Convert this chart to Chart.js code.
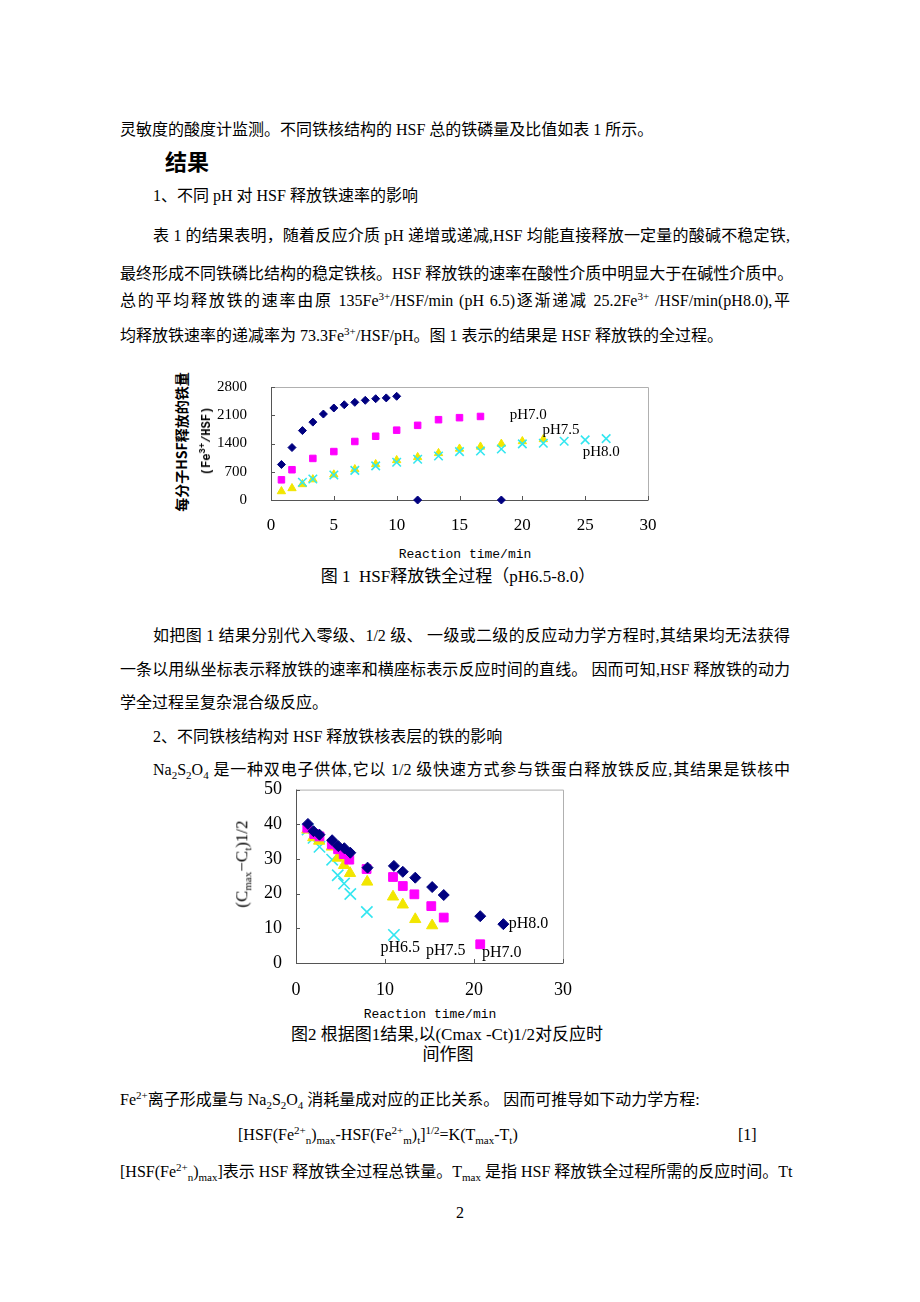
<!DOCTYPE html>
<html lang="zh-CN">
<head>
<meta charset="utf-8">
<title>HSF释放铁全过程</title>
<script src="https://cdn.jsdelivr.net/npm/chart.js@4.4.0/dist/chart.umd.min.js"></script>
<style>
  html, body { margin: 0; padding: 0; background: #fff; }
  body {
    width: 920px; height: 1302px; position: relative; overflow: hidden;
    font-family: "Liberation Serif", "Noto Sans CJK SC", serif; color: #000;
  }
  .ln { position: absolute; height: 22px; line-height: 22px; font-size: 16px; white-space: nowrap; }
  .jf { text-align: justify; text-align-last: justify; }
  .ln sup { font-size: 11px; vertical-align: 6px; line-height: 0; }
  .ln sub { font-size: 11px; vertical-align: -4px; line-height: 0; }
  .head { position: absolute; font-family: "Noto Sans CJK SC", sans-serif; font-weight: bold; font-size: 22px; line-height: 30px; }
  .cap { position: absolute; font-size: 17px; line-height: 20px; white-space: nowrap; transform: translateX(-50%); }
  .xt { position: absolute; font-family: "Liberation Mono", monospace; font-size: 13px; white-space: nowrap; transform: translate(-50%, -50%); }
  .yt { position: absolute; white-space: nowrap; transform: translate(-50%, -50%) rotate(-90deg); }
  canvas { position: absolute; }
</style>
</head>
<body>

<div class="ln" style="left:120px; top:119px;">灵敏度的酸度计监测。不同铁核结构的 HSF 总的铁磷量及比值如表 1 所示。</div>
<div class="head" style="left:165px; top:145px;">结果</div>
<div class="ln" style="left:153px; top:185px;">1、不同 pH 对 HSF 释放铁速率的影响</div>
<div class="ln jf" style="left:153px; top:225px; width:637px;">表 1 的结果表明，随着反应介质 pH 递增或递减,HSF 均能直接释放一定量的酸碱不稳定铁,</div>
<div class="ln jf" style="left:120px; top:263px; width:670px;">最终形成不同铁磷比结构的稳定铁核。HSF 释放铁的速率在酸性介质中明显大于在碱性介质中。</div>
<div class="ln jf" style="left:120px; top:290px; width:670px;">总的平均释放铁的速率由原 135Fe<sup>3+</sup>/HSF/min (pH 6.5)逐渐递减 25.2Fe<sup>3+</sup> /HSF/min(pH8.0),平</div>
<div class="ln" style="left:120px; top:325px;">均释放铁速率的递减率为 73.3Fe<sup>3+</sup>/HSF/pH。图 1 表示的结果是 HSF 释放铁的全过程。</div>

<canvas id="fig1" width="470" height="165" style="left:200px; top:375px;"></canvas>
<div class="yt" style="left:181px; top:442px; font-family:'Noto Sans CJK SC',sans-serif; font-weight:bold; font-size:14px;">每分子HSF释放的铁量</div>
<div class="yt" style="left:206px; top:441px; font-family:'Liberation Mono',monospace; font-weight:bold; font-size:12px;">(Fe<sup style="font-size:9px;">3+</sup>/HSF)</div>
<div class="xt" style="left:465px; top:554px;">Reaction time/min</div>
<div class="cap" style="left:458px; top:567px;">图 1&nbsp; HSF释放铁全过程（pH6.5-8.0）</div>

<div class="ln jf" style="left:153px; top:625px; width:637px;">如把图 1 结果分别代入零级、1/2 级、 一级或二级的反应动力学方程时,其结果均无法获得</div>
<div class="ln jf" style="left:120px; top:659px; width:670px;">一条以用纵坐标表示释放铁的速率和横座标表示反应时间的直线。 因而可知,HSF 释放铁的动力</div>
<div class="ln" style="left:120px; top:692px;">学全过程呈复杂混合级反应。</div>
<div class="ln" style="left:153px; top:726px;">2、不同铁核结构对 HSF 释放铁核表层的铁的影响</div>
<div class="ln jf" style="left:153px; top:759px; width:637px;">Na<sub>2</sub>S<sub>2</sub>O<sub>4</sub> 是一种双电子供体,它以 1/2 级快速方式参与铁蛋白释放铁反应,其结果是铁核中</div>

<canvas id="fig2" width="330" height="220" style="left:250px; top:780px;"></canvas>
<div class="yt" style="left:243px; top:864px; font-size:17px;">(C<sub style="font-size:11px;">max</sub>−C<sub style="font-size:11px;">t</sub>)1/2</div>
<div class="xt" style="left:430px; top:1014px;">Reaction time/min</div>
<div class="cap" style="left:447px; top:1025px;">图2 根据图1结果,以(Cmax -Ct)1/2对反应时</div>
<div class="cap" style="left:448px; top:1045px;">间作图</div>

<div class="ln" style="left:120px; top:1089px;">Fe<sup>2+</sup>离子形成量与 Na<sub>2</sub>S<sub>2</sub>O<sub>4</sub> 消耗量成对应的正比关系。 因而可推导如下动力学方程:</div>
<div class="ln" style="left:238px; top:1124px;">[HSF(Fe<sup>2+</sup><sub>n</sub>)<sub>max</sub>-HSF(Fe<sup>2+</sup><sub>m</sub>)<sub>t</sub>]<sup>1/2</sup>=K(T<sub>max</sub>-T<sub>t</sub>)</div>
<div class="ln" style="left:738px; top:1124px;">[1]</div>
<div class="ln jf" style="left:120px; top:1161px; width:670px;">[HSF(Fe<sup>2+</sup><sub>n</sub>)<sub>max</sub>]表示 HSF 释放铁全过程总铁量。T<sub>max</sub> 是指 HSF 释放铁全过程所需的反应时间。Tt</div>
<div class="ln" style="left:456px; top:1202px;">2</div>

<script>
// Figure 1: iron released per HSF molecule (Fe3+/HSF) vs reaction time (min)
const f1TimePH65 = [0.83, 1.67, 2.5, 3.33, 4.17, 5.0, 5.83, 6.67, 7.5, 8.33, 9.17, 10.0, 11.67, 18.33];
const f1FePH65   = [880, 1300, 1720, 1930, 2130, 2280, 2360, 2420, 2470, 2510, 2530, 2570, 0, 0];
const f1TimePH70 = [0.83, 1.67, 3.33, 5.0, 6.67, 8.33, 10.0, 11.67, 13.33, 15.0, 16.67];
const f1FePH70   = [500, 750, 1030, 1200, 1450, 1580, 1730, 1850, 1990, 2040, 2070];
const f1TimePH75 = [0.83, 1.67, 2.5, 3.33, 5.0, 6.67, 8.33, 10.0, 11.67, 13.33, 15.0, 16.67, 18.33, 20.0, 21.67];
const f1FePH75   = [215, 290, 390, 510, 630, 760, 885, 985, 1060, 1160, 1270, 1320, 1390, 1455, 1505];
const f1TimePH80 = [2.5, 3.33, 5.0, 6.67, 8.33, 10.0, 11.67, 13.33, 15.0, 16.67, 18.33, 20.0, 21.67, 23.33, 25.0, 26.67];
const f1FePH80   = [440, 520, 620, 735, 845, 935, 1010, 1090, 1200, 1215, 1265, 1390, 1405, 1455, 1490, 1520];
const f1XTicks = [0, 5, 10, 15, 20, 25, 30];
const f1YTicks = [0, 700, 1400, 2100, 2800];
const f1Labels = ['pH7.0', 'pH7.5', 'pH8.0'];
const f1LabelAt = [[19.0, 2110], [21.6, 1740], [24.8, 1190]];

// Figure 2: (Cmax - Ct)^1/2 vs reaction time (min)
const f2TimePH80 = [1.34, 1.97, 2.64, 4.06, 4.76, 5.43, 6.1, 8.04, 11.0, 12.0, 13.4, 15.3, 16.6, 20.7, 23.3];
const f2ValPH80  = [40.1, 38.0, 37.0, 35.4, 33.7, 33.1, 31.8, 27.5, 28.0, 26.3, 24.6, 21.9, 19.6, 13.5, 11.2];
const f2TimePH70 = [1.27, 2.05, 2.64, 4.02, 4.73, 5.36, 5.99, 7.93, 10.9, 12.0, 13.3, 15.2, 16.6, 20.7];
const f2ValPH70  = [39.0, 37.2, 36.5, 34.2, 32.8, 31.4, 29.8, 27.1, 24.8, 22.2, 19.8, 16.4, 13.1, 5.4];
const f2TimePH75 = [1.27, 1.94, 2.6, 4.02, 4.69, 5.4, 6.07, 8.0, 10.9, 12.0, 13.4, 15.3];
const f2ValPH75  = [38.4, 36.2, 35.2, 33.5, 30.3, 28.2, 25.9, 23.4, 19.1, 16.8, 12.6, 10.8];
const f2TimePH65 = [1.3, 1.97, 2.64, 4.06, 4.69, 5.4, 6.1, 7.96, 11.0];
const f2ValPH65  = [38.5, 36.1, 33.5, 29.8, 25.3, 22.9, 19.9, 14.7, 8.1];
const f2XTicks = [0, 10, 20, 30];
const f2YTicks = [0, 10, 20, 30, 40, 50];
const f2Labels = ['pH8.0', 'pH6.5', 'pH7.5', 'pH7.0'];
const f2LabelAt = [[23.9, 11.3], [9.5, 4.4], [14.6, 3.5], [20.9, 3.0]];

const toPoints = (xs, ys) => xs.map((x, i) => ({ x: x, y: ys[i] }));

function series(xs, ys, style, color, radius, order) {
  return {
    data: toPoints(xs, ys),
    pointStyle: style,
    pointRadius: radius,
    pointHoverRadius: radius,
    backgroundColor: color,
    borderColor: color,
    borderWidth: style === 'crossRot' ? 1.6 : 1,
    showLine: false,
    clip: false,
    order: order
  };
}

// frame round the plot, short inward ticks and the pH labels
const framePlugin = {
  id: 'frame',
  beforeDatasetsDraw(chart) {
    const { ctx, chartArea: a, scales } = chart;
    const o = chart.options.plugins.frame;
    ctx.save();
    ctx.lineWidth = 1;
    ctx.strokeStyle = '#b0b0b0';
    ctx.beginPath();
    ctx.moveTo(a.left, a.top + 0.5); ctx.lineTo(a.right + 0.5, a.top + 0.5);
    ctx.lineTo(a.right + 0.5, a.bottom);
    ctx.stroke();
    ctx.strokeStyle = '#555';
    ctx.beginPath();
    ctx.moveTo(a.left + 0.5, a.top); ctx.lineTo(a.left + 0.5, a.bottom + 0.5);
    ctx.lineTo(a.right + 0.5, a.bottom + 0.5);
    ctx.stroke();
    ctx.beginPath();
    o.xTicks.forEach(v => {
      const px = Math.round(scales.x.getPixelForValue(v)) + 0.5;
      ctx.moveTo(px, a.bottom); ctx.lineTo(px, a.bottom - o.tick);
    });
    o.yTicks.forEach(v => {
      const py = Math.round(scales.y.getPixelForValue(v)) + 0.5;
      ctx.moveTo(a.left, py); ctx.lineTo(a.left + o.tick, py);
    });
    ctx.stroke();
    ctx.restore();
  },
  afterDatasetsDraw(chart) {
    const { ctx, scales } = chart;
    const o = chart.options.plugins.frame;
    ctx.save();
    ctx.fillStyle = '#000';
    ctx.font = o.labelFont;
    ctx.textAlign = 'left';
    ctx.textBaseline = 'middle';
    o.labels.forEach((t, i) => {
      const p = o.labelAt[i];
      ctx.fillText(t, scales.x.getPixelForValue(p[0]), scales.y.getPixelForValue(p[1]));
    });
    ctx.restore();
  }
};

function makeChart(id, datasets, cfg) {
  return new Chart(document.getElementById(id), {
    type: 'scatter',
    data: { datasets: datasets },
    options: {
      responsive: false,
      animation: false,
      events: [],
      layout: { padding: cfg.padding },
      plugins: {
        legend: { display: false },
        tooltip: { enabled: false },
        frame: {
          xTicks: cfg.xTicks, yTicks: cfg.yTicks, tick: 4,
          labels: cfg.labels, labelAt: cfg.labelAt, labelFont: cfg.labelFont
        }
      },
      scales: {
        x: {
          type: 'linear', min: cfg.xTicks[0], max: cfg.xTicks[cfg.xTicks.length - 1],
          afterBuildTicks: s => { s.ticks = cfg.xTicks.map(v => ({ value: v })); },
          afterFit: s => { s.height = cfg.xHeight; s.paddingLeft = 0; s.paddingRight = 0; },
          grid: { display: false, drawTicks: false },
          border: { display: false },
          ticks: { padding: cfg.xPad, color: '#000', maxRotation: 0, autoSkip: false,
            callback: v => String(v),
            font: { family: '"Liberation Serif", serif', size: cfg.xFont } }
        },
        y: {
          type: 'linear', min: cfg.yTicks[0], max: cfg.yTicks[cfg.yTicks.length - 1],
          afterBuildTicks: s => { s.ticks = cfg.yTicks.map(v => ({ value: v })); },
          afterFit: s => { s.width = cfg.yWidth; s.paddingTop = 0; s.paddingBottom = 0; },
          grid: { display: false, drawTicks: false },
          border: { display: false },
          ticks: { padding: cfg.yPad, color: '#000', autoSkip: false,
            callback: v => String(v),
            font: { family: '"Liberation Serif", serif', size: cfg.yFont } }
        }
      }
    },
    plugins: [framePlugin]
  });
}

makeChart('fig1', [
  series(f1TimePH65, f1FePH65, 'rectRot', '#000080', 4, 1),
  series(f1TimePH70, f1FePH70, 'rect', '#ff00ff', 4.6, 2),
  series(f1TimePH80, f1FePH80, 'crossRot', '#33e6f0', 6, 3),
  series(f1TimePH75, f1FePH75, 'triangle', '#f2e600', 4.8, 4)
], {
  padding: { left: 0, top: 12, right: 22, bottom: 0 },
  xTicks: f1XTicks, yTicks: f1YTicks,
  xHeight: 40, yWidth: 71, xPad: 15, yPad: 24, xFont: 17, yFont: 15,
  labels: f1Labels, labelAt: f1LabelAt, labelFont: '15px "Liberation Serif", serif'
});

makeChart('fig2', [
  series(f2TimePH80, f2ValPH80, 'rectRot', '#000080', 5.5, 1),
  series(f2TimePH70, f2ValPH70, 'rect', '#ff00ff', 6.2, 2),
  series(f2TimePH75, f2ValPH75, 'triangle', '#f2e600', 6.5, 3),
  series(f2TimePH65, f2ValPH65, 'crossRot', '#33e6f0', 8, 4)
], {
  padding: { left: 0, top: 9, right: 17, bottom: 0 },
  xTicks: f2XTicks, yTicks: f2YTicks,
  xHeight: 37, yWidth: 46, xPad: 16, yPad: 14, xFont: 18, yFont: 18,
  labels: f2Labels, labelAt: f2LabelAt, labelFont: '16px "Liberation Serif", serif'
});
</script>
</body>
</html>
